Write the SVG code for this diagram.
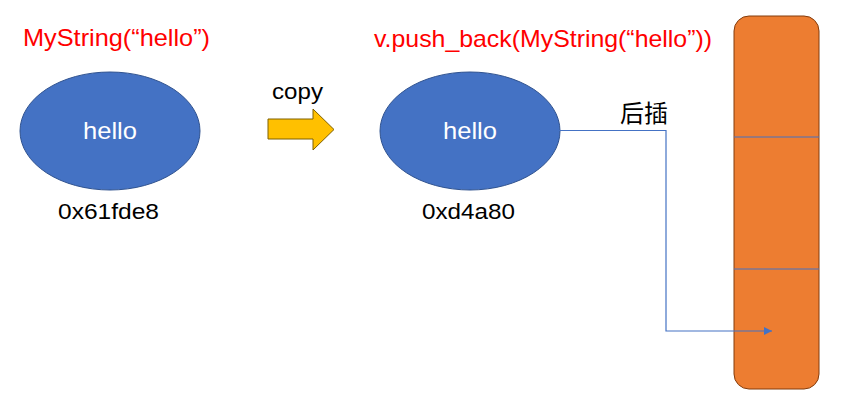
<svg xmlns="http://www.w3.org/2000/svg" width="841" height="402" viewBox="0 0 841 402">
<defs>
<style>
.t{font-family:"Liberation Sans","Noto Sans CJK SC",sans-serif;}
.red{fill:#FF0000;font-size:24px;}
.blk{fill:#000;font-size:22px;}
.wht{fill:#fff;font-size:24px;}
.ell{fill:#4472C4;stroke:#2F528F;stroke-width:1;}
.conn{fill:none;stroke:#4472C4;stroke-width:1.2;}
</style>
<marker id="ah" viewBox="0 0 10 10" refX="10" refY="5" markerWidth="8" markerHeight="8" markerUnits="userSpaceOnUse" orient="auto">
<path d="M0,0 L10,5 L0,10 z" fill="#4472C4"/>
</marker>
</defs>
<rect width="841" height="402" fill="#fff"/>
<g id="title-left"><text class="t red" x="23" y="46" textLength="187" lengthAdjust="spacingAndGlyphs">MyString(“hello”)</text></g>
<g id="title-right"><text class="t red" x="374" y="47" textLength="338" lengthAdjust="spacingAndGlyphs">v.push_back(MyString(“hello”))</text></g>
<g id="obj-left">
<ellipse class="ell" cx="110" cy="131" rx="90" ry="59"/>
<text class="t wht" x="83" y="139" textLength="54" lengthAdjust="spacingAndGlyphs">hello</text>
<text class="t blk" x="58" y="219" textLength="101" lengthAdjust="spacingAndGlyphs">0x61fde8</text>
</g>
<g id="copy-arrow">
<text class="t blk" x="272" y="99" textLength="51" lengthAdjust="spacingAndGlyphs">copy</text>
<path d="M268,119 H313 V109 L334,129.5 L313,150 V139 H268 Z" fill="#FFC000" stroke="#7F6000" stroke-width="1"/>
</g>
<g id="obj-right">
<ellipse class="ell" cx="470" cy="131" rx="90" ry="59"/>
<text class="t wht" x="443" y="139" textLength="54" lengthAdjust="spacingAndGlyphs">hello</text>
<text class="t blk" x="422" y="219" textLength="93" lengthAdjust="spacingAndGlyphs">0xd4a80</text>
</g>
<g id="vector">
<rect x="734" y="16" width="85" height="373" rx="15" ry="15" fill="#ED7D31" stroke="#843C0C" stroke-width="1"/>
<line x1="734" y1="137" x2="819" y2="137" stroke="#4472C4" stroke-width="1"/>
<line x1="734" y1="269" x2="819" y2="269" stroke="#4472C4" stroke-width="1"/>
</g>
<g id="label-insert"><text class="t" x="620" y="122" font-size="24" fill="#000">后插</text></g>
<g id="connectors">
<path class="conn" d="M559,130.5 H666 V331 H772" marker-end="url(#ah)"/>
</g>
</svg>
